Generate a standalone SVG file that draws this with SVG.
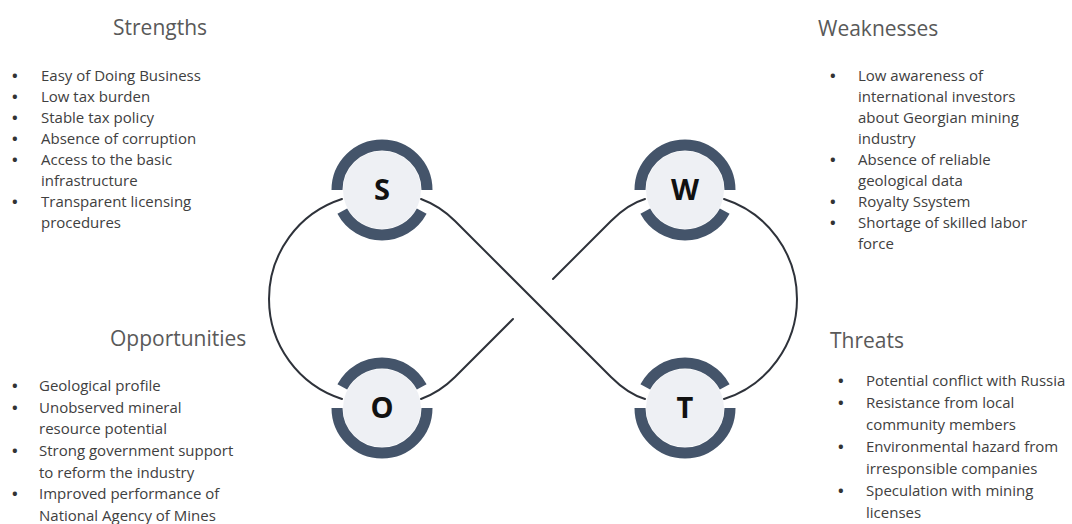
<svg xmlns="http://www.w3.org/2000/svg" xmlns:xlink="http://www.w3.org/1999/xlink" width="1072" height="524" viewBox="0 0 1072 524">
<style>
.title{font-family:"Open Sans","Liberation Sans",sans-serif;font-size:21px;fill:#595959}
.body{font-family:"Open Sans","Liberation Sans",sans-serif;font-size:15px;fill:#404040}
.bul{font-weight:bold;fill:#333333}
.letter{font-family:"Open Sans","Liberation Sans",sans-serif;font-size:29px;font-weight:bold;fill:#111111;text-anchor:middle}
.conn{fill:none;stroke:#2e323a;stroke-width:2;stroke-linecap:round}
.ring{fill:none;stroke:#44546a;stroke-width:11}
.core{fill:#eef0f4}
</style>
<defs>
<g id="ring">
<circle class="core" cx="0" cy="0" r="39"/>
<path class="ring" d="M-45,0 A45,45 0 0,1 45,0"/>
<path class="ring" d="M39.73,21.13 A45,45 0 0,1 -39.73,21.13"/>
</g>
</defs>
<rect width="1072" height="524" fill="#ffffff"/>
<g id="connectors">
<path class="conn" d="M342,199 A105,105 0 0,0 342,399"/>
<path class="conn" d="M724,199 A105,105 0 0,1 724,399"/>
<path class="conn" d="M421,199 Q440,206 455,221 L611,377 Q628,394 645,399"/>
<path class="conn" d="M421,399 Q440,392 455,377 L513,319"/>
<path class="conn" d="M553,279 L611,221 Q628,204 645,199"/>
</g>
<g id="node-S">
<use xlink:href="#ring" transform="translate(382,190)"/>
<text class="letter" x="382" y="200">S</text>
</g>
<g id="node-W">
<use xlink:href="#ring" transform="translate(685,190)"/>
<text class="letter" x="685" y="200">W</text>
</g>
<g id="node-O">
<use xlink:href="#ring" transform="translate(382,408) scale(1,-1)"/>
<text class="letter" x="382" y="418">O</text>
</g>
<g id="node-T">
<use xlink:href="#ring" transform="translate(685,408) scale(1,-1)"/>
<text class="letter" x="685" y="418">T</text>
</g>
<g id="strengths">
<text class="title" x="113" y="35">Strengths</text>
<text class="body">
<tspan class="bul" x="12" y="81">•</tspan><tspan x="41" y="81">Easy of Doing Business</tspan>
<tspan class="bul" x="12" y="102">•</tspan><tspan x="41" y="102">Low tax burden</tspan>
<tspan class="bul" x="12" y="123">•</tspan><tspan x="41" y="123">Stable tax policy</tspan>
<tspan class="bul" x="12" y="144">•</tspan><tspan x="41" y="144">Absence of corruption</tspan>
<tspan class="bul" x="12" y="165">•</tspan><tspan x="41" y="165">Access to the basic</tspan>
<tspan x="41" y="186">infrastructure</tspan>
<tspan class="bul" x="12" y="207">•</tspan><tspan x="41" y="207">Transparent licensing</tspan>
<tspan x="41" y="228">procedures</tspan>
</text>
</g>
<g id="weaknesses">
<text class="title" x="818" y="36">Weaknesses</text>
<text class="body">
<tspan class="bul" x="830" y="81">•</tspan><tspan x="858" y="81">Low awareness of</tspan>
<tspan x="858" y="102">international investors</tspan>
<tspan x="858" y="123">about Georgian mining</tspan>
<tspan x="858" y="144">industry</tspan>
<tspan class="bul" x="830" y="165">•</tspan><tspan x="858" y="165">Absence of reliable</tspan>
<tspan x="858" y="186">geological data</tspan>
<tspan class="bul" x="830" y="207">•</tspan><tspan x="858" y="207">Royalty Ssystem</tspan>
<tspan class="bul" x="830" y="228">•</tspan><tspan x="858" y="228">Shortage of skilled labor</tspan>
<tspan x="858" y="249">force</tspan>
</text>
</g>
<g id="opportunities">
<text class="title" x="110" y="346">Opportunities</text>
<text class="body">
<tspan class="bul" x="12" y="391">•</tspan><tspan x="39" y="391">Geological profile</tspan>
<tspan class="bul" x="12" y="413">•</tspan><tspan x="39" y="413">Unobserved mineral</tspan>
<tspan x="39" y="434">resource potential</tspan>
<tspan class="bul" x="12" y="456">•</tspan><tspan x="39" y="456">Strong government support</tspan>
<tspan x="39" y="478">to reform the industry</tspan>
<tspan class="bul" x="12" y="499">•</tspan><tspan x="39" y="499">Improved performance of</tspan>
<tspan x="39" y="521">National Agency of Mines</tspan>
</text>
</g>
<g id="threats">
<text class="title" x="830" y="348">Threats</text>
<text class="body">
<tspan class="bul" x="838" y="386">•</tspan><tspan x="866" y="386">Potential conflict with Russia</tspan>
<tspan class="bul" x="838" y="408">•</tspan><tspan x="866" y="408">Resistance from local</tspan>
<tspan x="866" y="430">community members</tspan>
<tspan class="bul" x="838" y="452">•</tspan><tspan x="866" y="452">Environmental hazard from</tspan>
<tspan x="866" y="474">irresponsible companies</tspan>
<tspan class="bul" x="838" y="496">•</tspan><tspan x="866" y="496">Speculation with mining</tspan>
<tspan x="866" y="518">licenses</tspan>
</text>
</g>
</svg>
